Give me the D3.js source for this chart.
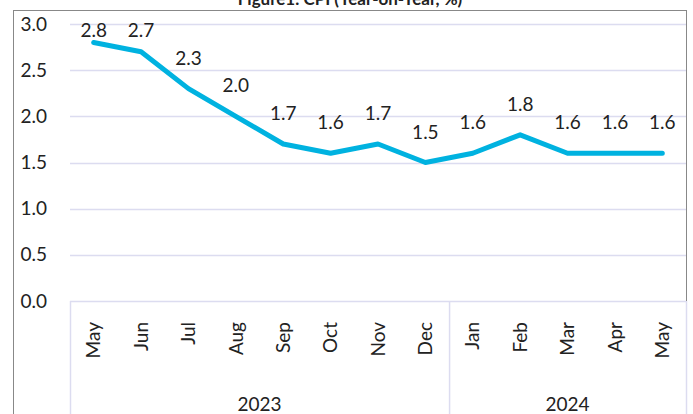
<!DOCTYPE html>
<html lang="en">
    <head>
        <meta charset="utf-8">
        <title>CPI Year-on-Year</title>
        <script src="https://d3js.org/d3.v7.min.js"></script>
        <style type="text/css">
        body {
            margin: 0;
            background-color: white;
        }
        text {
            font-family: Lato, "Open Sans", sans-serif;
            fill: #222;
        }
        </style>
    </head>
    <body>
        <svg width="693" height="414"></svg>
        <script type="text/javascript">
            // data
            const months = ["May", "Jun", "Jul", "Aug", "Sep", "Oct", "Nov", "Dec",
                            "Jan", "Feb", "Mar", "Apr", "May"];
            const years = ["2023", "2024"];
            const yearSpan = [8, 5]; // months per year group
            const cpi = [2.8, 2.7, 2.3, 2.0, 1.7, 1.6, 1.7, 1.5, 1.6, 1.8, 1.6, 1.6, 1.6];
            const yTicks = [0, 0.5, 1.0, 1.5, 2.0, 2.5, 3.0];

            const svg = d3.select("svg");
            const w = 693, h = 414;
            const plotLeft = 70, plotRight = 686, plotTop = 24, plotBottom = 301;
            const gridColor = "#dcdcf0";
            const lineColor = "#00b2e0";
            const fs = "19px";

            // title (cut off at the top like the reference)
            svg.append("text")
               .attr("x", 350).attr("y", 5)
               .attr("text-anchor", "middle")
               .style("font-size", "17px")
               .style("font-weight", "bold")
               .text("Figure1. CPI (Year-on-Year, %)");

            // outer frame
            svg.append("rect")
               .attr("x", 13.5).attr("y", 10.5)
               .attr("width", plotRight - 13).attr("height", h)
               .attr("fill", "none")
               .attr("stroke", "#888");

            const x = d3.scaleBand()
                        .domain(d3.range(months.length))
                        .range([plotLeft, plotRight]);
            const y = d3.scaleLinear().domain([0, 3]).range([plotBottom, plotTop]);

            // gridlines + y labels
            svg.selectAll("line.grid")
               .data(yTicks)
               .enter()
               .append("line")
               .attr("class", "grid")
               .attr("x1", plotLeft).attr("x2", plotRight)
               .attr("y1", d => Math.round(y(d)) + 0.5)
               .attr("y2", d => Math.round(y(d)) + 0.5)
               .style("stroke", gridColor)
               .style("stroke-width", 1.5);

            svg.selectAll("text.ytick")
               .data(yTicks)
               .enter()
               .append("text")
               .attr("class", "ytick")
               .attr("x", 47)
               .attr("y", d => y(d))
               .attr("dy", "0.35em")
               .attr("text-anchor", "end")
               .style("font-size", fs)
               .text(d => d.toFixed(1));

            // category axis box
            const axisLines = [0];
            yearSpan.reduce((acc, n) => { axisLines.push(acc + n); return acc + n; }, 0);
            svg.selectAll("line.sep")
               .data(axisLines)
               .enter()
               .append("line")
               .attr("class", "sep")
               .attr("x1", d => (d < months.length ? x(d) : plotRight) + 0.5)
               .attr("x2", d => (d < months.length ? x(d) : plotRight) + 0.5)
               .attr("y1", plotBottom)
               .attr("y2", h)
               .style("stroke", gridColor)
               .style("stroke-width", 1.5);

            svg.selectAll("text.month")
               .data(months)
               .enter()
               .append("text")
               .attr("class", "month")
               .attr("transform", (d, i) => `translate(${x(i) + x.bandwidth() / 2},322) rotate(-90)`)
               .attr("text-anchor", "end")
               .attr("dy", "0.35em")
               .style("font-size", fs)
               .text(d => d);

            let start = 0;
            years.forEach((yr, k) => {
                const x0 = x(start);
                const x1 = start + yearSpan[k] < months.length ? x(start + yearSpan[k]) : plotRight;
                svg.append("text")
                   .attr("x", (x0 + x1) / 2)
                   .attr("y", 411)
                   .attr("text-anchor", "middle")
                   .style("font-size", fs)
                   .text(yr);
                start += yearSpan[k];
            });

            // the line
            const line = d3.line()
                           .x((d, i) => x(i) + x.bandwidth() / 2)
                           .y(d => y(d));
            svg.append("path")
               .datum(cpi)
               .attr("d", line)
               .attr("fill", "none")
               .attr("stroke", lineColor)
               .attr("stroke-width", 5)
               .attr("stroke-linejoin", "round")
               .attr("stroke-linecap", "round");

            // value labels, kept inside the plot top
            svg.selectAll("text.value")
               .data(cpi)
               .enter()
               .append("text")
               .attr("class", "value")
               .attr("x", (d, i) => x(i) + x.bandwidth() / 2)
               .attr("y", d => Math.max(y(d) - 24, 37))
               .attr("text-anchor", "middle")
               .style("font-size", fs)
               .text(d => d.toFixed(1));
        </script>
    </body>
</html>
